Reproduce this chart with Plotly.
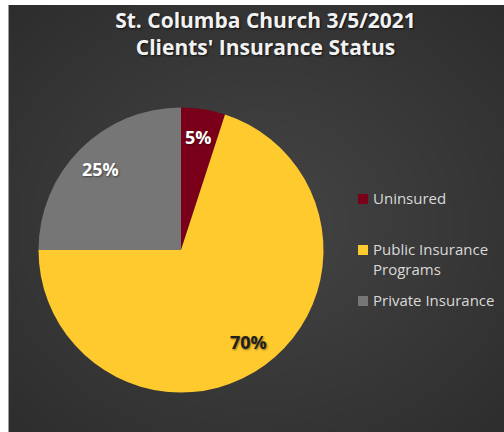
import math
import textwrap
import plotly.graph_objects as go

# ---- data ----
categories = ["Uninsured", "Public Insurance Programs", "Private Insurance"]
shares = [5, 70, 25]
slice_colors = ["#7A0019", "#FFCA2E", "#767676"]
label_colors = ["#FFFFFF", "#1F1F1F", "#FFFFFF"]
title_lines = ["St. Columba Church 3/5/2021", "Clients' Insurance Status"]

W, H = 504, 432


def px_x(x):
    return x / W


def px_y(y):
    return 1 - y / H


pie_cx, pie_cy, pie_r = 181, 250, 142.5
dom_x = [px_x(pie_cx - pie_r), px_x(pie_cx + pie_r)]
dom_y = [px_y(pie_cy + pie_r), px_y(pie_cy - pie_r)]

fig = go.Figure()
fig.add_trace(go.Pie(
    labels=categories,
    values=shares,
    sort=False,
    direction="clockwise",
    rotation=0,
    marker=dict(colors=slice_colors, line=dict(width=0)),
    textinfo="none",
    showlegend=False,
    hoverinfo="label+percent",
    domain=dict(x=dom_x, y=dom_y),
))

shapes = []
# radial-ish background gradient (lighter toward the middle)
n_rings = 24
gcx, gcy = 258, 222
for i in range(n_rings):
    f = 1 - i / n_rings
    rx, ry = 360 * f, 305 * f
    shapes.append(dict(type="circle", xref="paper", yref="paper", layer="below",
                       x0=px_x(gcx - rx), x1=px_x(gcx + rx),
                       y0=px_y(gcy + ry), y1=px_y(gcy - ry),
                       line=dict(width=0), fillcolor="rgba(255,255,255,0.0072)"))
# white frame strips at top and left
shapes.append(dict(type="rect", xref="paper", yref="paper", layer="above",
                   x0=0, x1=1, y0=px_y(5), y1=1, line=dict(width=0), fillcolor="white"))
shapes.append(dict(type="rect", xref="paper", yref="paper", layer="above",
                   x0=0, x1=px_x(8), y0=0, y1=1, line=dict(width=0), fillcolor="white"))
shapes.append(dict(type="line", xref="paper", yref="paper", layer="above",
                   x0=px_x(8.5), x1=px_x(8.5), y0=0, y1=px_y(5),
                   line=dict(width=1, color="#9A9A9A")))

annotations = []

# percentage labels placed along each slice's mid-angle (derived from the shares)
total = sum(shares)
cum = 0
for val, col in zip(shares, label_colors):
    mid = (cum + val / 2) / total * 2 * math.pi
    cum += val
    rr = 0.8 * pie_r
    lx = pie_cx + rr * math.sin(mid)
    ly = pie_cy - rr * math.cos(mid)
    annotations.append(dict(
        text=f"{val / total:.0%}", xref="paper", yref="paper",
        x=px_x(lx), y=px_y(ly), xanchor="center", yanchor="middle", showarrow=False,
        font=dict(family="Open Sans", size=18, weight="bold", color=col,
                  shadow="1px 1px 2px rgba(0,0,0,0.45)"),
    ))

# legend (manually laid out, driven by the category list)
leg_x_box, leg_x_text = 358, 371
leg_y0, leg_pitch = 199, 51
leg_font = 15
for i, (cat, col) in enumerate(zip(categories, slice_colors)):
    yc = leg_y0 + i * leg_pitch
    shapes.append(dict(type="rect", xref="paper", yref="paper", layer="above",
                       x0=px_x(leg_x_box), x1=px_x(leg_x_box + 10),
                       y0=px_y(yc + 5), y1=px_y(yc - 5),
                       line=dict(width=0), fillcolor=col))
    annotations.append(dict(
        text="<br>".join(textwrap.wrap(cat, 17)),
        xref="paper", yref="paper", x=px_x(leg_x_text), y=px_y(yc - leg_font * 0.65 - 3),
        xanchor="left", yanchor="top", align="left", showarrow=False,
        font=dict(family="Open Sans", size=leg_font, color="#D9D9D9"),
    ))

fig.update_layout(
    width=W, height=H,
    margin=dict(l=0, r=0, t=0, b=0),
    paper_bgcolor="#2C2C2C",
    plot_bgcolor="rgba(0,0,0,0)",
    title=dict(
        text="<br>".join(title_lines),
        x=px_x(265.5), y=px_y(28), xanchor="center", yanchor="middle",
        xref="paper", yref="paper",
        font=dict(family="Open Sans", size=21, weight="bold", color="#F2F2F2",
                  shadow="1px 1px 2px rgba(0,0,0,0.7)"),
    ),
    shapes=shapes,
    annotations=annotations,
)

fig.write_html("out.html", config={"displayModeBar": False},
               post_script="document.body.style.margin='0px';")
